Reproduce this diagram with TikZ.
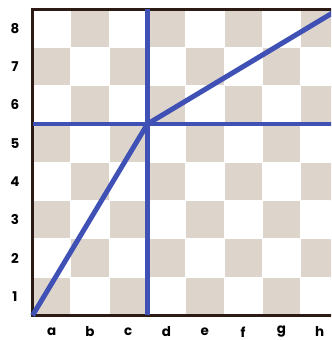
\documentclass[tikz,border=0pt]{standalone}
\usepackage{fontspec}
\setmainfont{Poppins}
\usepackage{xcolor}
\usepackage{tikz}
\definecolor{ink}{HTML}{2B1B14}
\definecolor{sand}{HTML}{DDD4CB}
\definecolor{indigo}{HTML}{3F51B5}
\newcommand{\lblfont}{\fontsize{10}{11}\selectfont\bfseries}

\begin{document}
\begin{tikzpicture}[font=\lblfont]
  \useasboundingbox (-0.849,-0.640) rectangle (7.794,8.238);
  \clip (-0.849,-0.640) rectangle (7.794,8.238);
  %% dark squares
  \foreach \i in {0,...,7}{
    \foreach \j in {0,...,7}{
      \pgfmathtruncatemacro{\p}{mod(\i+\j,2)}
      \ifnum\p=0
        \filldraw[fill=sand,draw=white,line width=0.7pt] (\i,\j) rectangle ++(1,1);
      \fi
    }
  }
  %% frame
  \draw[ink,line width=2.2pt] (0,0) rectangle (8,8);
  %% guide lines through d/c and 5/6
  \coordinate (corner) at (0,0);
  \coordinate (cross) at (3,5);
  \coordinate (far) at (8,8);
  \draw[indigo,line width=3.7pt] (3,0) -- (3,8);
  \draw[indigo,line width=3.7pt] (0,5) -- (8,5);
  \draw[indigo,line width=3.7pt,line join=round] (corner) -- (cross) -- (far);
  %% file and rank labels
  \foreach \f [count=\k from 0] in {a,b,c,d,e,f,g,h}{
    \node (file\f) at (\k+0.5,-0.43) {\f};
  }
  \foreach \r in {1,...,8}{
    \node (rank\r) at (-0.457,\r-0.5) {\r};
  }
\end{tikzpicture}
\end{document}
